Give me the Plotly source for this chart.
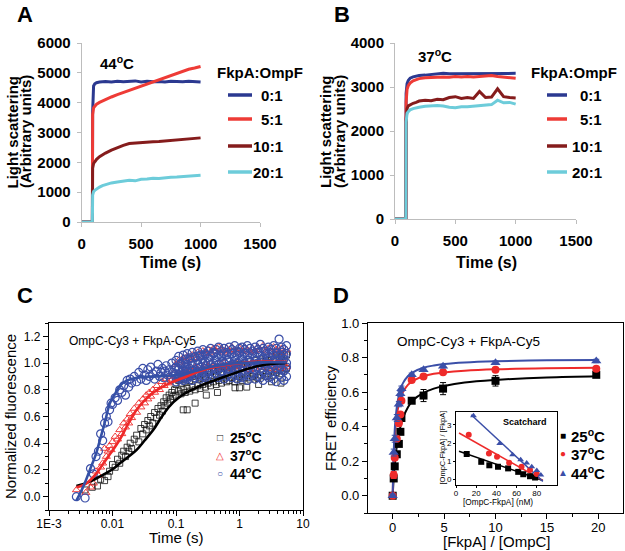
import plotly.graph_objects as go

# -------------------------------
# Panel A / B : light scattering (FkpA:OmpF ratios)
# -------------------------------
ratios = ["0:1", "5:1", "10:1", "20:1"]
ratio_colors = ["#2B3990", "#EE3B36", "#851C1C", "#6DCCDA"]

t_scatter = [0, 90, 92, 96, 100, 110, 125, 150, 175, 200, 250, 300, 350,
             400, 450, 500, 550, 600, 650, 700, 750, 800, 850, 900, 950, 1000]

a_44 = {
    "0:1": [0, 0, 3700, 4450, 4560, 4630, 4670, 4690, 4700, 4710, 4690, 4720, 4700,
            4710, 4730, 4690, 4720, 4700, 4710, 4690, 4720, 4710, 4700, 4720, 4700, 4690],
    "5:1": [0, 0, 3600, 3760, 3830, 3880, 3950, 4010, 4060, 4110, 4190, 4270, 4340,
            4410, 4480, 4550, 4630, 4700, 4770, 4850, 4920, 4990, 5060, 5120, 5160, 5210],
    "10:1": [0, 0, 1800, 1900, 1960, 2020, 2100, 2190, 2260, 2310, 2410, 2500, 2570,
             2630, 2650, 2660, 2670, 2690, 2700, 2720, 2740, 2760, 2780, 2800, 2810, 2820],
    "20:1": [0, 0, 900, 980, 1020, 1060, 1110, 1170, 1220, 1250, 1310, 1340, 1370,
             1400, 1380, 1430, 1440, 1470, 1460, 1490, 1500, 1510, 1530, 1540, 1550, 1570],
}
b_37 = {
    "0:1": [0, 0, 2850, 3000, 3080, 3150, 3200, 3230, 3250, 3260, 3270, 3280, 3290,
            3310, 3300, 3300, 3310, 3300, 3310, 3300, 3310, 3300, 3310, 3310, 3300, 3310],
    "5:1": [0, 0, 2650, 2850, 2950, 3030, 3090, 3140, 3170, 3190, 3210, 3220, 3230,
            3230, 3220, 3240, 3230, 3240, 3230, 3240, 3250, 3260, 3240, 3230, 3220, 3200],
    "10:1": [0, 0, 2250, 2430, 2510, 2570, 2600, 2630, 2650, 2680, 2700, 2690, 2720,
             2710, 2760, 2780, 2740, 2760, 2740, 2900, 2760, 2770, 2960, 2780, 2760, 2750],
    "20:1": [0, 0, 2200, 2330, 2400, 2440, 2480, 2510, 2530, 2540, 2560, 2570, 2580,
             2570, 2540, 2530, 2550, 2550, 2560, 2580, 2590, 2600, 2700, 2640, 2650, 2610],
}

# -------------------------------
# Panel C : stopped-flow FRET kinetics
# -------------------------------
c25_t = [0.0037, 0.0048, 0.0058, 0.0065, 0.0075, 0.0085, 0.009, 0.010, 0.011, 0.012,
         0.013, 0.014, 0.015, 0.016, 0.017, 0.018, 0.019, 0.020, 0.022, 0.024,
         0.026, 0.028, 0.030, 0.032, 0.034, 0.036, 0.038, 0.040, 0.043, 0.046,
         0.049, 0.052, 0.055, 0.058, 0.061, 0.064, 0.067, 0.070, 0.074, 0.078,
         0.082, 0.086, 0.090, 0.095, 0.13, 0.15, 0.2, 0.3, 0.45, 0.85,
         1.0, 1.3, 2.0, 3.2, 4.5]
c25_y = [0.05, 0.07, 0.08, 0.13, 0.12, 0.15, 0.19, 0.24, 0.22, 0.28,
         0.25, 0.31, 0.34, 0.30, 0.37, 0.34, 0.40, 0.36, 0.43, 0.46,
         0.41, 0.51, 0.47, 0.54, 0.50, 0.57, 0.53, 0.60, 0.55, 0.63,
         0.59, 0.66, 0.61, 0.68, 0.64, 0.71, 0.68, 0.74, 0.70, 0.76,
         0.73, 0.78, 0.75, 0.80, 0.65, 0.65, 0.70, 0.76, 0.78, 0.815,
         0.815, 0.82, 0.84, 0.86, 0.85]

c37_t = [0.0027, 0.0038, 0.0045, 0.0050, 0.0055, 0.0060, 0.0065, 0.0070, 0.0075, 0.0080,
         0.0085, 0.0090, 0.0095, 0.010, 0.011, 0.012, 0.013, 0.014, 0.015, 0.016,
         0.017, 0.018, 0.019, 0.020, 0.022, 0.024, 0.026, 0.028, 0.030, 0.032,
         0.034, 0.036, 0.038, 0.040, 0.043, 0.046, 0.050, 0.055, 0.060, 0.065,
         0.070, 0.075, 0.080, 0.085, 0.090]
c37_y = [0.05, 0.03, 0.07, 0.10, 0.19, 0.16, 0.22, 0.25, 0.36, 0.30,
         0.34, 0.38, 0.35, 0.41, 0.45, 0.43, 0.50, 0.47, 0.55, 0.52,
         0.58, 0.55, 0.62, 0.59, 0.66, 0.63, 0.70, 0.67, 0.73, 0.70,
         0.76, 0.73, 0.78, 0.75, 0.80, 0.78, 0.83, 0.80, 0.86, 0.83,
         0.88, 0.85, 0.90, 0.87, 0.92]

c44_t = [0.0027, 0.0037, 0.0045, 0.0050, 0.0055, 0.0060, 0.0065, 0.0070, 0.0075, 0.0080,
         0.0085, 0.0090, 0.0095, 0.010, 0.011, 0.012, 0.013, 0.014, 0.015, 0.016,
         0.017, 0.018, 0.019, 0.020, 0.022, 0.024, 0.026, 0.028, 0.030, 0.032,
         0.034, 0.036, 0.038, 0.040, 0.043, 0.046, 0.049, 0.052, 0.055, 0.058,
         0.061, 0.064, 0.067, 0.070, 0.074, 0.078, 0.082, 0.086, 0.090, 0.095]
c44_y = [0.00, -0.01, 0.21, 0.17, 0.30, 0.34, 0.47, 0.42, 0.55, 0.60,
         0.56, 0.65, 0.70, 0.69, 0.74, 0.72, 0.80, 0.78, 0.83, 0.76,
         0.87, 0.82, 0.88, 0.85, 0.90, 0.86, 0.93, 0.88, 0.96, 0.91,
         0.87, 0.95, 0.90, 0.97, 0.92, 0.88, 0.94, 0.99, 0.90, 0.93,
         0.96, 0.89, 0.94, 0.98, 0.91, 0.95, 0.88, 1.00, 0.93, 0.96]

# dense plateau region (0.1 - 5.5 s)
band_t = [0.10, 0.11, 0.12, 0.13, 0.14, 0.15, 0.165, 0.18, 0.20, 0.22, 0.24,
          0.265, 0.29, 0.32, 0.35, 0.39, 0.43, 0.47, 0.52, 0.57, 0.63, 0.69,
          0.76, 0.84, 0.92, 1.0, 1.1, 1.2, 1.33, 1.46, 1.6, 1.76, 1.94,
          2.13, 2.35, 2.6, 2.85, 3.15, 3.45, 3.8, 4.2, 4.6, 5.0, 5.5]
blue_band = [
    [1.02, 1.05, 0.99, 1.06, 1.03, 1.07, 1.04, 1.08, 1.05, 1.09, 1.06,
     1.10, 1.07, 1.09, 1.11, 1.08, 1.10, 1.12, 1.09, 1.11, 1.08, 1.12,
     1.10, 1.13, 1.09, 1.11, 1.12, 1.10, 1.13, 1.11, 1.09, 1.12, 1.10,
     1.14, 1.11, 1.09, 1.12, 1.10, 1.13, 1.11, 1.18, 1.12, 1.10, 1.13],
    [0.97, 0.95, 1.00, 0.98, 1.01, 0.99, 1.03, 1.00, 1.04, 1.02, 1.05,
     1.03, 1.06, 1.04, 1.05, 1.07, 1.04, 1.06, 1.05, 1.07, 1.06, 1.04,
     1.07, 1.05, 1.06, 1.08, 1.05, 1.07, 1.06, 1.04, 1.07, 1.05, 1.08,
     1.06, 1.04, 1.07, 1.05, 1.08, 1.06, 1.07, 1.05, 1.08, 1.06, 1.07],
    [0.92, 0.96, 0.93, 0.95, 0.97, 0.94, 0.96, 0.98, 0.95, 0.99, 0.97,
     1.00, 0.98, 1.01, 0.99, 1.00, 1.02, 0.99, 1.01, 1.00, 1.02, 1.01,
     0.99, 1.02, 1.00, 1.01, 1.03, 1.00, 1.02, 1.01, 0.99, 1.02, 1.00,
     1.01, 1.03, 1.00, 1.02, 0.99, 1.01, 1.02, 1.00, 1.01, 1.03, 1.00],
    [0.89, 0.91, 0.88, 0.92, 0.90, 0.93, 0.91, 0.94, 0.92, 0.93, 0.95,
     0.93, 0.96, 0.94, 0.95, 0.97, 0.95, 0.96, 0.94, 0.97, 0.95, 0.96,
     0.98, 0.95, 0.97, 0.96, 0.94, 0.97, 0.95, 0.98, 0.96, 0.95, 0.97,
     0.96, 0.94, 0.97, 0.95, 0.96, 0.98, 0.95, 0.97, 0.96, 0.94, 0.97],
    [0.86, 0.88, 0.90, 0.87, 0.89, 0.88, 0.90, 0.87, 0.89, 0.91, 0.88,
     0.90, 0.89, 0.91, 0.88, 0.90, 0.92, 0.89, 0.91, 0.88, 0.90, 0.92,
     0.89, 0.91, 0.88, 0.90, 0.89, 0.91, 0.87, 0.90, 0.92, 0.88, 0.90,
     0.89, 0.87, 0.91, 0.89, 0.90, 0.88, 0.86, 0.91, 0.89, 0.87, 0.90],
]
red_band = [
    [0.99, 1.02, 1.00, 1.04, 1.01, 1.05, 1.03, 1.06, 1.04, 1.08, 1.05,
     1.09, 1.07, 1.10, 1.08, 1.11, 1.09, 1.12, 1.10, 1.08, 1.11, 1.09,
     1.12, 1.10, 1.08, 1.11, 1.09, 1.12, 1.10, 1.08, 1.11, 1.09, 1.12,
     1.10, 1.13, 1.09, 1.11, 1.08, 1.12, 1.10, 1.09, 1.11, 1.08, 1.10],
    [0.90, 0.92, 0.94, 0.91, 0.95, 0.93, 0.96, 0.94, 0.97, 0.95, 0.98,
     0.96, 0.99, 0.97, 1.00, 0.98, 0.96, 0.99, 0.97, 1.00, 0.98, 0.96,
     0.99, 0.97, 1.00, 0.98, 0.96, 0.99, 0.97, 0.95, 0.98, 0.96, 0.99,
     0.97, 1.00, 0.98, 0.96, 0.99, 0.97, 0.95, 0.98, 0.96, 0.99, 0.97],
]
black_band = [
    [0.84, 0.87, 0.85, 0.88, 0.86, 0.89, 0.87, 0.90, 0.88, 0.91, 0.89,
     0.92, 0.90, 0.93, 0.91, 0.94, 0.92, 0.95, 0.93, 0.96, 0.94, 0.97,
     0.95, 0.98, 0.96, 0.99, 0.97, 1.00, 0.98, 1.01, 0.99, 1.02, 1.00,
     1.03, 1.01, 1.04, 1.02, 1.05, 1.03, 1.06, 1.04, 1.05, 1.03, 1.06],
    [0.76, 0.79, 0.77, 0.80, 0.78, 0.81, 0.79, 0.82, 0.80, 0.83, 0.81,
     0.84, 0.82, 0.85, 0.83, 0.86, 0.84, 0.87, 0.85, 0.88, 0.86, 0.87,
     0.89, 0.86, 0.88, 0.90, 0.87, 0.89, 0.91, 0.88, 0.90, 0.92, 0.89,
     0.91, 0.93, 0.90, 0.92, 0.94, 0.91, 0.93, 0.95, 0.92, 0.94, 0.96],
]

fit25_t = [0.0027, 0.004, 0.0055, 0.0072, 0.01, 0.0131, 0.018, 0.024, 0.032, 0.044,
           0.06, 0.08, 0.11, 0.148, 0.2, 0.27, 0.4, 0.6, 0.9, 1.4, 2.1, 3.5, 5.5]
fit25_y = [0.08, 0.105, 0.135, 0.165, 0.205, 0.25, 0.30, 0.35, 0.42, 0.50,
           0.60, 0.68, 0.74, 0.78, 0.81, 0.84, 0.87, 0.90, 0.93, 0.96, 0.98, 0.995, 1.0]
fit37_t = [0.0027, 0.0039, 0.0055, 0.0072, 0.0095, 0.0131, 0.017, 0.024, 0.032, 0.044,
           0.06, 0.08, 0.148, 0.24, 0.4, 0.7, 1.1, 1.65, 5.5]
fit37_y = [0.07, 0.10, 0.17, 0.25, 0.33, 0.43, 0.53, 0.65, 0.72, 0.78,
           0.82, 0.85, 0.90, 0.94, 0.97, 0.99, 1.0, 1.01, 1.01]
fit44_t = [0.0027, 0.0035, 0.0044, 0.0055, 0.0064, 0.0077, 0.0091, 0.011, 0.0131, 0.017,
           0.024, 0.044, 0.08, 0.12, 0.2, 0.34, 0.6, 1.0, 2.0, 5.5]
fit44_y = [-0.03, 0.08, 0.20, 0.32, 0.43, 0.57, 0.70, 0.77, 0.83, 0.87,
           0.89, 0.90, 0.905, 0.915, 0.94, 0.97, 0.99, 1.0, 1.005, 1.005]

# -------------------------------
# Panel D : FRET efficiency titration + Scatchard inset
# -------------------------------
d_ratio = [0, 0.1, 0.2, 0.4, 0.6, 0.75, 0.85, 1.85, 3, 4.9, 10, 19.8]
d_25 = [0, 0.10, 0.17, 0.24, 0.30, 0.37, 0.45, 0.55, 0.58, 0.62, 0.665, 0.70]
d_25_err = [0.01, 0.01, 0.01, 0.01, 0.012, 0.015, 0.015, 0.015, 0.035, 0.035, 0.03, 0.015]
d_37 = [0, 0.12, 0.22, 0.33, 0.42, 0.47, 0.55, 0.67, 0.69, 0.715, 0.73, 0.735]
d_37_err = [0.01, 0.02, 0.01, 0.01, 0.01, 0.01, 0.01, 0.01, 0.01, 0.01, 0.012, 0.01]
d_44 = [0, 0.25, 0.33, 0.45, 0.53, 0.59, 0.62, 0.70, 0.73, 0.75, 0.77, 0.78]
d_44_err = [0.01, 0.02, 0.02, 0.02, 0.015, 0.015, 0.015, 0.01, 0.01, 0.01, 0.01, 0.01]

dfit_x = [0, 0.1, 0.2, 0.3, 0.5, 0.75, 1, 1.5, 2, 3, 4, 5, 7, 10, 15, 20]
dfit_25 = [0, 0.103, 0.18, 0.24, 0.327, 0.40, 0.45, 0.514, 0.554, 0.595, 0.62, 0.635, 0.655, 0.67, 0.685, 0.692]
dfit_37 = [0, 0.214, 0.333, 0.409, 0.5, 0.5625, 0.6, 0.643, 0.667, 0.692, 0.706, 0.714, 0.724, 0.732, 0.738, 0.741]
dfit_44 = [0, 0.248, 0.379, 0.459, 0.552, 0.615, 0.652, 0.693, 0.716, 0.741, 0.754, 0.762, 0.771, 0.778, 0.784, 0.786]

sc_x_25 = [10.6, 25, 33, 41.6, 51.6, 61.6, 66.6, 73.3, 78.3]
sc_y_25 = [1.40, 0.97, 0.78, 0.70, 0.61, 0.42, 0.29, 0.18, 0.11]
sc_x_37 = [12.6, 32.6, 40.6, 52.6, 64.9, 73.3, 80]
sc_y_37 = [2.45, 1.43, 1.25, 0.92, 0.70, 0.52, 0.3]
sc_x_44 = [17.3, 43.3, 56, 64, 70, 75, 80, 84]
sc_y_44 = [3.5, 1.98, 1.36, 1.08, 0.9, 0.7, 0.5, 0.25]
scl_x_25, scl_y_25 = [3, 86], [1.55, -0.05]
scl_x_37, scl_y_37 = [3, 86], [2.55, -0.05]
scl_x_44, scl_y_44 = [15, 86], [3.55, -0.1]

temps = ["25<sup>o</sup>C", "37<sup>o</sup>C", "44<sup>o</sup>C"]
BLACK, RED, BLUE = "#111111", "#EE2A2A", "#3B4FA8"

FONT = "Arial, Liberation Sans, sans-serif"
W, H = 625, 551


def px(x):
    return x / W


def py(y):
    return 1 - y / H


fig = go.Figure()

# ---- A and B traces
for axis_id, data in (("", a_44), ("2", b_37)):
    for name, col in zip(ratios, ratio_colors):
        fig.add_trace(go.Scatter(x=t_scatter, y=data[name], name=name, mode="lines",
                                 line=dict(color=col, width=3),
                                 xaxis="x" + axis_id, yaxis="y" + axis_id))

# ---- C traces
bx = band_t * 2
fig.add_trace(go.Scatter(x=c25_t + bx, y=c25_y + black_band[0] + black_band[1], mode="markers",
                         marker=dict(symbol="square-open", size=6, color=BLACK, line=dict(width=0.8)),
                         xaxis="x3", yaxis="y3", name="25C"))
fig.add_trace(go.Scatter(x=c37_t + bx, y=c37_y + red_band[0] + red_band[1], mode="markers",
                         marker=dict(symbol="triangle-up-open", size=7, color=RED, line=dict(width=0.9)),
                         xaxis="x3", yaxis="y3", name="37C"))
fig.add_trace(go.Scatter(x=c44_t + band_t * 5, y=c44_y + sum(blue_band, []), mode="markers",
                         marker=dict(symbol="circle-open", size=8, color=BLUE, line=dict(width=1.2)),
                         xaxis="x3", yaxis="y3", name="44C"))
for tx, ty, col in ((fit25_t, fit25_y, "black"), (fit37_t, fit37_y, RED), (fit44_t, fit44_y, "#3450A6")):
    fig.add_trace(go.Scatter(x=tx, y=ty, mode="lines", line=dict(color=col, width=2.6, shape="spline"),
                             xaxis="x3", yaxis="y3", showlegend=False))

# ---- D traces
for fy, col in ((dfit_25, "black"), (dfit_37, RED), (dfit_44, BLUE)):
    fig.add_trace(go.Scatter(x=dfit_x, y=fy, mode="lines", line=dict(color=col, width=2, shape="spline"),
                             xaxis="x4", yaxis="y4"))
for dy, de, col, sym, sz in ((d_25, d_25_err, "black", "square", 8),
                             (d_37, d_37_err, RED, "circle", 8),
                             (d_44, d_44_err, BLUE, "triangle-up", 9)):
    fig.add_trace(go.Scatter(x=d_ratio, y=dy, mode="markers",
                             error_y=dict(type="data", array=de, color=col, thickness=1, width=3),
                             marker=dict(symbol=sym, size=sz, color=col),
                             xaxis="x4", yaxis="y4"))

# ---- inset
for lx, ly, col in ((scl_x_25, scl_y_25, "black"), (scl_x_37, scl_y_37, RED), (scl_x_44, scl_y_44, BLUE)):
    fig.add_trace(go.Scatter(x=lx, y=ly, mode="lines", line=dict(color=col, width=1.5),
                             xaxis="x5", yaxis="y5"))
for sx, sy, col, sym in ((sc_x_25, sc_y_25, "black", "square"),
                         (sc_x_37, sc_y_37, RED, "circle"),
                         (sc_x_44, sc_y_44, BLUE, "triangle-up")):
    fig.add_trace(go.Scatter(x=sx, y=sy, mode="markers", marker=dict(symbol=sym, size=6, color=col),
                             xaxis="x5", yaxis="y5"))

# ---- axes
gray_axis = dict(showline=True, linecolor="#BDBDBD", linewidth=1, ticks="outside", ticklen=4,
                 tickcolor="#BDBDBD", showgrid=False, zeroline=False, automargin=False,
                 tickfont=dict(family=FONT, size=15, color="black", weight="bold"))
box_axis = dict(showline=True, linecolor="black", linewidth=1.2, mirror=True, ticks="outside",
                ticklen=5, tickcolor="black", showgrid=False, zeroline=False, automargin=False)

log_minor = [m * 10 ** e for e in range(-3, 1) for m in range(2, 10)]

fig.update_layout(
    width=W, height=H, margin=dict(l=0, r=0, t=0, b=0, pad=0, autoexpand=False),
    paper_bgcolor="white", plot_bgcolor="white", showlegend=False,
    xaxis=dict(gray_axis, domain=[px(81.7), px(260)], range=[0, 1500], tickvals=[0, 500, 1000, 1500],
               anchor="y", ticklabelstandoff=4),
    yaxis=dict(gray_axis, domain=[py(222), py(43)], range=[0, 6000], dtick=1000, anchor="x",
               ticklabelstandoff=3),
    xaxis2=dict(gray_axis, domain=[px(395), px(576)], range=[0, 1500], tickvals=[0, 500, 1000, 1500],
                anchor="y2", ticklabelstandoff=4),
    yaxis2=dict(gray_axis, domain=[py(219), py(43)], range=[0, 4000], dtick=1000, anchor="x2",
                ticklabelstandoff=3),
    xaxis3=dict(box_axis, domain=[px(49), px(303)], type="log", range=[-3, 1],
                tickvals=[0.001, 0.01, 0.1, 1, 10], ticktext=["1E-3", "0.01", "0.1", "1", "10"],
                minor=dict(tickvals=log_minor, ticks="outside", ticklen=3, tickcolor="black"),
                tickfont=dict(family=FONT, size=12, color="black"), anchor="y3",
                ticklabelstandoff=-3),
    yaxis3=dict(box_axis, domain=[py(510), py(323)], range=[-0.1, 1.3], tick0=0, dtick=0.2,
                tickformat=".1f", minor=dict(dtick=0.1, ticks="outside", ticklen=3, tickcolor="black"),
                tickfont=dict(family=FONT, size=12, color="black"), anchor="x3"),
    xaxis4=dict(box_axis, domain=[px(368), px(623)], range=[-2.4, 22.4], tick0=0, dtick=5,
                minor=dict(dtick=2.5, ticks="outside", ticklen=3, tickcolor="black"),
                tickfont=dict(family=FONT, size=13, color="black"), anchor="y4",
                ticklabelstandoff=-3),
    yaxis4=dict(box_axis, domain=[py(513), py(323)], range=[-0.1, 1.0], tick0=0, dtick=0.2,
                tickformat=".1f", minor=dict(dtick=0.1, ticks="outside", ticklen=3, tickcolor="black"),
                tickfont=dict(family=FONT, size=13, color="black"), anchor="x4"),
    xaxis5=dict(box_axis, domain=[px(456), px(557)], range=[0, 100], tickvals=[0, 20, 40, 60, 80],
                ticklen=2, linewidth=1, tickfont=dict(family=FONT, size=8, color="black"), anchor="y5",
                ticklabelstandoff=-2),
    yaxis5=dict(box_axis, domain=[py(485), py(412)], range=[-0.3, 3.7], tickvals=[0, 1, 2, 3],
                ticklen=2, linewidth=1, tickfont=dict(family=FONT, size=8, color="black"), anchor="x5"),
)

ann = []


def text(x, y, s, size, bold=False, angle=0, xanchor="center", color="black"):
    ann.append(dict(x=px(x), y=py(y), xref="paper", yref="paper", text=f"<b>{s}</b>" if bold else s,
                    showarrow=False, textangle=angle, xanchor=xanchor, yanchor="middle",
                    font=dict(family=FONT, size=size, color=color)))


# panel letters
for letter, x, y in (("A", 25, 14), ("B", 342, 14), ("C", 25, 295), ("D", 341, 295)):
    text(x, y, letter, 22, bold=True)

# A / B titles and legends
shapes = []
for ylab1, ylab2, xt, temp, tx, ty, lx0, lx1, lab_r, title_x in (
        (11.5, 25, 170, "44<sup>o</sup>C", 117, 62, 228, 252, 285, 260),
        (325, 339, 486, "37<sup>o</sup>C", 435, 56, 547, 567, 604, 574)):
    text(ylab1, 132, "Light scattering", 15, bold=True, angle=-90)
    text(ylab2, 132, "(Arbitrary units)", 15, bold=True, angle=-90)
    text(xt, 262, "Time (s)", 16, bold=True)
    text(tx, ty, temp, 15, bold=True)
    text(title_x, 72, "FkpA:OmpF", 15, bold=True)
    for name, col, yy in zip(ratios, ratio_colors, (95, 119, 146, 172)):
        shapes.append(dict(type="line", xref="paper", yref="paper", x0=px(lx0), x1=px(lx1),
                           y0=py(yy), y1=py(yy), line=dict(color=col, width=3.5)))
        text(lab_r, yy, name, 15, bold=True, xanchor="right")

# C labels
text(10, 417, "Normalized fluorescence", 15, angle=-90)
text(176, 537, "Time (s)", 15)
text(67, 341, "OmpC-Cy3 + FkpA-Cy5", 12, xanchor="left")
for sym, col, lab, yy in (("□", BLACK, temps[0], 437), ("△", RED, temps[1], 455), ("○", BLUE, temps[2], 473)):
    text(220, yy, sym, 10, color=col)
    text(228, yy, lab, 14, bold=True, xanchor="left")

# D labels
text(330, 418, "FRET efficiency", 15, angle=-90)
text(497, 541, "[FkpA] / [OmpC]", 15)
text(395, 341, "OmpC-Cy3 + FkpA-Cy5", 13.5, xanchor="left")
for sym, col, lab, yy in (("■", "black", temps[0], 435), ("●", RED, temps[1], 453), ("▲", BLUE, temps[2], 472)):
    text(563, yy, sym, 10, color=col)
    text(569, yy, lab, 15, bold=True, xanchor="left")
text(525, 422, "Scatchard", 9, bold=True)
text(441.5, 448, "[OmpC-FkpA] / [FkpA]", 7.5, angle=-90)
text(497.5, 502, "[OmpC-FkpA] (nM)", 8.3)

fig.update_layout(annotations=ann, shapes=shapes)
# the page body carries an 8px default margin; drop it so the figure starts at the window corner
fig.write_html("out.html", config={"displayModeBar": False},
               post_script="document.body.style.margin='0';")
